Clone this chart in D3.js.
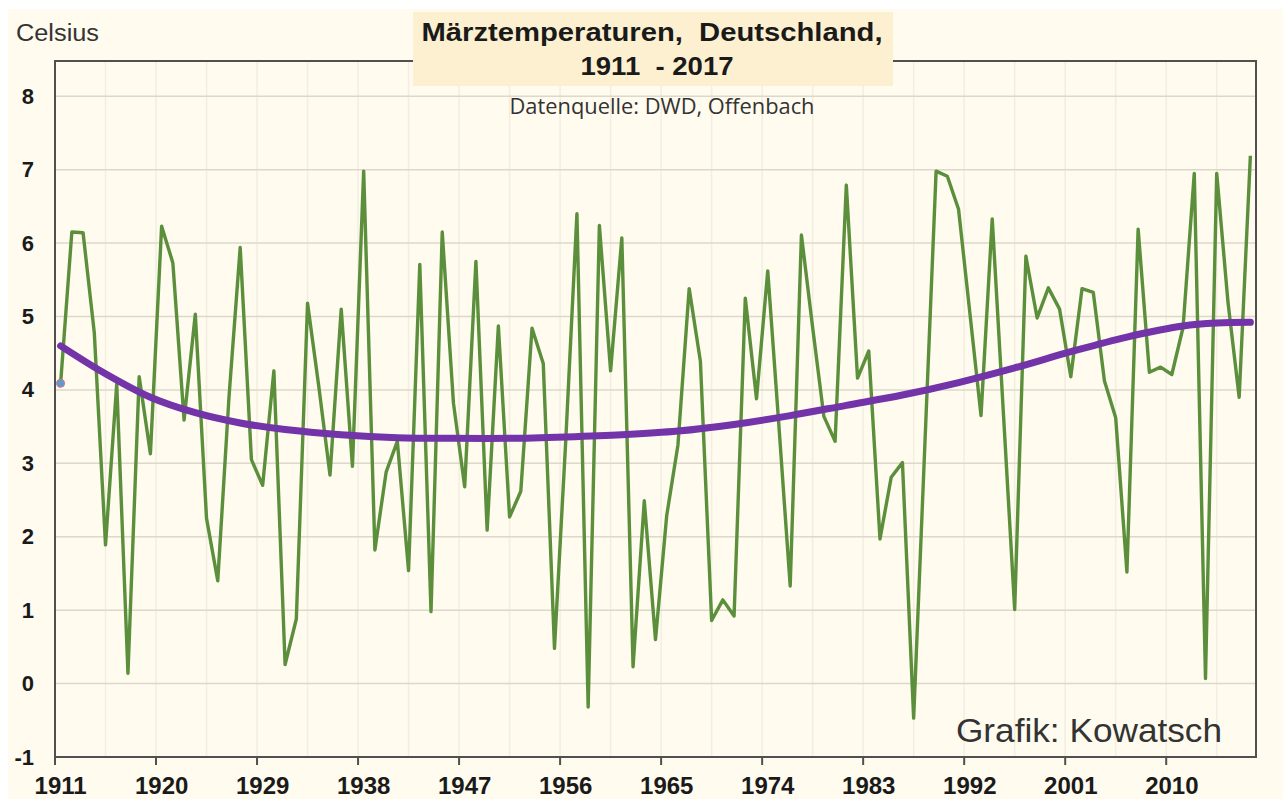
<!DOCTYPE html>
<html>
<head>
<meta charset="utf-8">
<script src="https://cdn.jsdelivr.net/npm/d3@7"></script>
<style>
body{margin:0;background:#ffffff;}
</style>
</head>
<body>
<script>
// years 1911 - 2017 (categories)
var years = d3.range(1911, 2018);
// March mean temperature, Germany (Celsius)
var temps = [4.09,6.15,6.14,4.78,1.89,4.08,0.14,4.18,3.13,6.23,
             5.73,3.59,5.03,2.25,1.40,3.90,5.94,3.05,2.70,4.26,
             0.26,0.88,5.18,4.05,2.84,5.10,2.96,6.98,1.82,2.88,
             3.30,1.54,5.71,0.98,6.15,3.82,2.68,5.75,2.09,4.87,
             2.27,2.62,4.84,4.36,0.48,3.30,6.40,-0.32,6.24,4.26,
             6.07,0.23,2.49,0.60,2.29,3.25,5.38,4.39,0.86,1.14,
             0.92,5.25,3.88,5.62,3.50,1.33,6.11,4.85,3.64,3.30,
             6.79,4.16,4.53,1.97,2.81,3.01,-0.47,3.26,6.98,6.91,
             6.46,5.06,3.65,6.33,3.67,1.01,5.82,4.98,5.39,5.10,
             4.18,5.38,5.33,4.12,3.62,1.52,6.19,4.24,4.31,4.21,
             4.85,6.95,0.07,6.95,5.20,3.90,7.19];
// polynomial trend (purple), read at some years
var trendYears  = [1911,1915,1919,1923,1927,1931,1936,1941,1946,1951,1956,1961,1966,1971,1976,1981,1986,1991,1996,2001,2006,2011,2014,2017];
var trendValues = [4.60,4.22,3.90,3.69,3.55,3.46,3.39,3.35,3.34,3.34,3.36,3.39,3.44,3.53,3.65,3.79,3.93,4.10,4.30,4.52,4.72,4.87,4.91,4.92];
var xTickYears = [1911,1920,1929,1938,1947,1956,1965,1974,1983,1992,2001,2010];
var yTicks = [-1,0,1,2,3,4,5,6,7,8];

function makeChart(){//draw the whole chart
    var W = 1283, H = 799;
    var pLeft = 55, pRight = 1256, pTop = 61, pBottom = 757;//plot frame

    var svg = d3.select("body").append("svg")
        .attr("width", W).attr("height", H)
        .style("display","block");

    svg.append("rect")//cream background
        .attr("x",8).attr("y",9).attr("width",W-8).attr("height",H-9)
        .attr("fill","#fffbee");

    var x = d3.scaleBand().domain(years).range([pLeft,pRight]);
    var bw = x.bandwidth();
    function cx(yr){return x(yr)+bw/2;}//center of category
    var y = d3.scaleLinear().domain([-1,8.48]).range([pBottom,pTop]);

    // faint vertical grid
    var vg = d3.range(1,27).map(function(k){return pLeft+k*4.5*bw;}).filter(function(v){return v<pRight-2;});
    svg.append("g").selectAll("line").data(vg).enter().append("line")
        .attr("x1",function(d){return d;}).attr("x2",function(d){return d;})
        .attr("y1",pTop).attr("y2",pBottom)
        .attr("stroke","#f2eee1").attr("stroke-width",1.5);

    // horizontal grid
    svg.append("g").selectAll("line").data(yTicks).enter().append("line")
        .attr("x1",pLeft).attr("x2",pRight)
        .attr("y1",function(d){return y(d);}).attr("y2",function(d){return y(d);})
        .attr("stroke","#dcd8cb").attr("stroke-width",1.5);

    // frame
    svg.append("rect")
        .attr("x",pLeft).attr("y",pTop).attr("width",pRight-pLeft).attr("height",pBottom-pTop)
        .attr("fill","none").attr("stroke","#505050").attr("stroke-width",2);

    // x tick marks at category borders
    svg.append("g").selectAll("line").data(xTickYears).enter().append("line")
        .attr("x1",function(d){return x(d);}).attr("x2",function(d){return x(d);})
        .attr("y1",pBottom).attr("y2",pBottom+8)
        .attr("stroke","#505050").attr("stroke-width",2);

    // x labels (axis)
    var xAxis = d3.axisBottom(x).tickValues(xTickYears).tickSize(0).tickPadding(0);
    var gx = svg.append("g").attr("transform","translate(0,"+(pBottom+20)+")").call(xAxis);
    gx.select(".domain").remove();
    gx.selectAll("text")
        .attr("dy","0.71em")
        .style("font-family","'Liberation Sans', Arial, sans-serif")
        .style("font-size","24px").style("font-weight","bold").attr("fill","#1a1a1a");

    // y labels (axis), plain hyphen for minus
    var yAxis = d3.axisLeft(y).tickValues(yTicks).tickSize(0).tickPadding(0)
        .tickFormat(function(d){return String(d);});
    var gy = svg.append("g").attr("transform","translate(34,0)").call(yAxis);
    gy.select(".domain").remove();
    gy.selectAll("text")
        .style("font-family","'Liberation Sans', Arial, sans-serif")
        .style("font-size","22px").style("font-weight","bold").attr("fill","#1a1a1a");

    // temperature line
    var line = d3.line()
        .x(function(d,i){return cx(years[i]);})
        .y(function(d){return y(d);});
    svg.append("path").datum(temps)
        .attr("d",line)
        .attr("fill","none").attr("stroke","#5b8f3c").attr("stroke-width",3.4)
        .attr("stroke-linejoin","round");

    // trend line
    var tline = d3.line().curve(d3.curveCatmullRom)
        .x(function(d,i){return cx(trendYears[i]);})
        .y(function(d){return y(d);});
    svg.append("path").datum(trendValues)
        .attr("d",tline)
        .attr("fill","none").attr("stroke","#7234a8").attr("stroke-width",7)
        .attr("stroke-linecap","round");

    // marker on first point
    svg.append("circle")
        .attr("cx",cx(years[0])).attr("cy",y(temps[0])).attr("r",4)
        .attr("fill","#5b9bd5").attr("stroke","#e07070").attr("stroke-width",1);

    // title box
    svg.append("rect")
        .attr("x",413).attr("y",12).attr("width",480).attr("height",74)
        .attr("fill","#fdf0d0");
    svg.append("text")
        .attr("x",652).attr("y",41).attr("text-anchor","middle")
        .attr("textLength",461).attr("lengthAdjust","spacingAndGlyphs")
        .style("white-space","pre")
        .style("font-family","'Liberation Sans', Arial, sans-serif")
        .style("font-size","25px").style("font-weight","bold").attr("fill","#1a1a1a")
        .text("Märztemperaturen,  Deutschland,");
    svg.append("text")
        .attr("x",657).attr("y",75).attr("text-anchor","middle")
        .attr("textLength",153).attr("lengthAdjust","spacingAndGlyphs")
        .style("white-space","pre")
        .style("font-family","'Liberation Sans', Arial, sans-serif")
        .style("font-size","25px").style("font-weight","bold").attr("fill","#1a1a1a")
        .text("1911  - 2017");
    svg.append("text")
        .attr("x",662).attr("y",114).attr("text-anchor","middle")
        .attr("textLength",305).attr("lengthAdjust","spacingAndGlyphs")
        .style("font-family","'Open Sans', sans-serif")
        .style("font-size","21px").attr("fill","#333333")
        .text("Datenquelle: DWD, Offenbach");

    // unit
    svg.append("text")
        .attr("x",16).attr("y",41)
        .attr("textLength",83).attr("lengthAdjust","spacingAndGlyphs")
        .style("font-family","'Liberation Sans', Arial, sans-serif")
        .style("font-size","23px").attr("fill","#333333")
        .text("Celsius");

    // credit
    svg.append("text")
        .attr("x",956).attr("y",742)
        .attr("textLength",266).attr("lengthAdjust","spacingAndGlyphs")
        .style("font-family","'Liberation Sans', Arial, sans-serif")
        .style("font-size","34px").attr("fill","#333333")
        .text("Grafik: Kowatsch");
}

makeChart();
</script>
</body>
</html>
